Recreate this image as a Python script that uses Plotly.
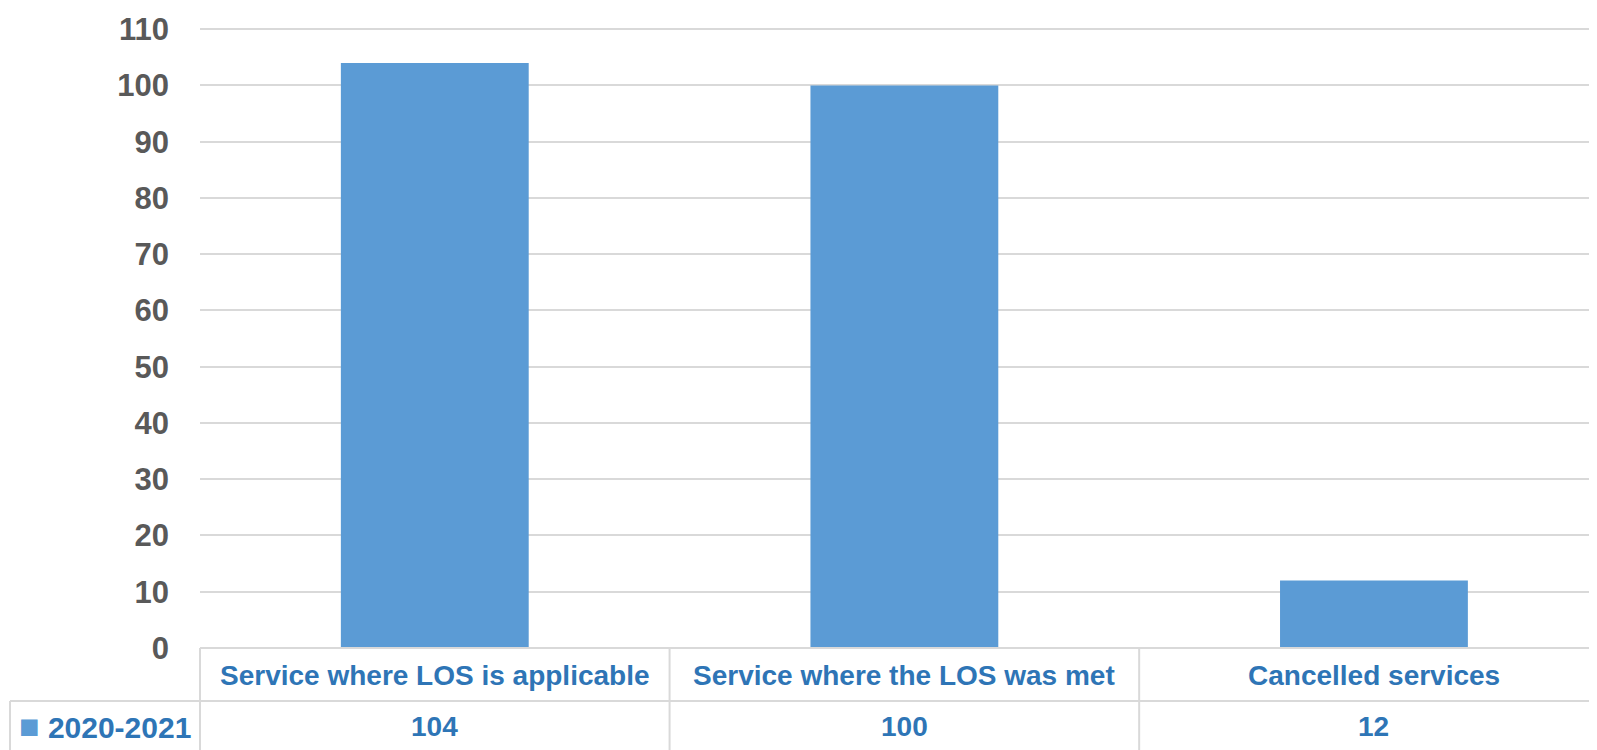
import plotly.graph_objects as go

# data
categories = ["Service where LOS is applicable", "Service where the LOS was met", "Cancelled services"]
values_2020_2021 = [104, 100, 12]
series_name = "2020-2021"
y_ticks = list(range(0, 111, 10))

# page is 1597x750 but the div sits 8px in (body margin)
OFF = 8
W, H = 1597 - OFF, 750 - OFF
plot_left, plot_top, plot_bottom = 200, 28, 648
m_left, m_right = plot_left - OFF, 0
m_top, m_bottom = plot_top - OFF, H + OFF - plot_bottom
plot_h = plot_bottom - plot_top
plot_w = 1597 - plot_left
# last category runs a little past the right edge of the picture
x_max = len(categories) - 0.5 - 0.025

bar_color = "#5B9BD5"
text_blue = "#2E75B6"
grid_color = "#D9D9D9"
font_family = "Liberation Sans, Arial, sans-serif"


def py(ypix):
    # page pixel row -> paper y
    return (plot_bottom - ypix) / plot_h


def px(xpix):
    return (xpix - plot_left) / plot_w


fig = go.Figure()
fig.add_trace(go.Bar(
    x=categories, y=values_2020_2021, name=series_name,
    marker=dict(color=bar_color, line=dict(width=0)),
    width=0.4, showlegend=False,
))

fig.update_layout(
    width=W, height=H,
    margin=dict(l=m_left, r=m_right, t=m_top, b=m_bottom),
    paper_bgcolor="white", plot_bgcolor="white",
    font=dict(family=font_family),
)
fig.update_xaxes(showticklabels=False, showgrid=False, showline=False,
                 zeroline=False, range=[-0.5, x_max])
fig.update_yaxes(range=[0, 110.2], tickvals=y_ticks, showgrid=True,
                 gridcolor=grid_color, gridwidth=2, zeroline=False,
                 showline=False, ticks="", ticklabelstandoff=30,
                 tickfont=dict(size=31, color="#595959", family=font_family,
                               weight="bold"))

# data table below the plot
line = dict(color=grid_color, width=2)
n = len(categories)
fig.add_shape(type="line", xref="paper", yref="paper", x0=0, x1=1,
              y0=0, y1=0, line=line)
fig.add_shape(type="line", xref="paper", yref="paper", x0=px(10), x1=1,
              y0=py(701), y1=py(701), line=line)
fig.add_shape(type="line", xref="paper", yref="paper", x0=0, x1=0,
              y0=0, y1=py(750), line=line)
fig.add_shape(type="line", xref="paper", yref="paper", x0=px(10), x1=px(10),
              y0=py(701), y1=py(750), line=line)
for i in range(n - 1):
    fig.add_shape(type="line", xref="x", yref="paper", x0=i + 0.5, x1=i + 0.5,
                  y0=0, y1=py(750), line=line)

cell_font = dict(size=28, color=text_blue, family=font_family, weight="bold")
for cat, v in zip(categories, values_2020_2021):
    fig.add_annotation(x=cat, xref="x", yref="paper", y=py(675),
                       text=cat, showarrow=False, font=cell_font,
                       xanchor="center", yanchor="middle")
    fig.add_annotation(x=cat, xref="x", yref="paper", y=py(726),
                       text=str(v), showarrow=False, font=cell_font,
                       xanchor="center", yanchor="middle")

# legend key in the table
fig.add_annotation(x=px(17), xref="paper", yref="paper", y=py(726),
                   text="<span style='color:%s;font-size:34px'>■</span> %s" % (bar_color, series_name),
                   showarrow=False, font=dict(size=30, color=text_blue, family=font_family, weight="bold"),
                   xanchor="left", yanchor="middle")

fig.write_html("out.html")
